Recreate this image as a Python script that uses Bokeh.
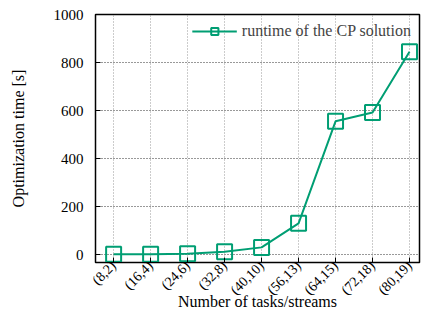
import math
from bokeh.plotting import figure
from bokeh.models import Range1d, FixedTicker, Legend, LegendItem, ColumnDataSource
from bokeh.embed import file_html
from bokeh.resources import INLINE

categories = ["(8,2)", "(16,4)", "(24,6)", "(32,8)", "(40,10)", "(56,13)", "(64,15)", "(72,18)", "(80,19)"]
runtime = [1, 1, 3, 12, 30, 130, 555, 592, 845]
y_ticks = [0, 200, 400, 600, 800, 1000]

GREEN = "#009e73"
FONT = "Liberation Serif"

idx = list(range(len(categories)))
src = ColumnDataSource(dict(x=idx, y=runtime))

p = figure(width=421, height=314, output_backend="svg", toolbar_location=None,
           x_range=Range1d(-0.49, len(categories) - 0.73), y_range=Range1d(-33, 1000),
           min_border_left=95, min_border_right=2, min_border_top=14, min_border_bottom=52)

p.outline_line_color = "black"
p.outline_line_width = 1.5
p.background_fill_color = "white"

# grid
p.xgrid.grid_line_color = "#999999"
p.xgrid.grid_line_dash = "1 2"
p.xgrid.grid_line_width = 1
p.ygrid.grid_line_color = "#333333"
p.ygrid.grid_line_dash = "1 2"
p.ygrid.grid_line_width = 1

# axes
p.xaxis.ticker = FixedTicker(ticks=idx)
p.xaxis.major_label_overrides = {i: c for i, c in zip(idx, categories)}
p.xaxis.major_label_orientation = math.pi / 4
p.yaxis.ticker = FixedTicker(ticks=y_ticks)
for ax in (p.xaxis, p.yaxis):
    ax.major_tick_in = 5
    ax.major_tick_out = 0
    ax.minor_tick_line_color = None
    ax.axis_line_color = "black"
    ax.major_tick_line_color = "black"
    ax.major_label_text_font = FONT
    ax.axis_label_text_font = FONT
    ax.axis_label_text_font_style = "normal"
    ax.major_label_text_color = "black"
    ax.axis_label_text_color = "black"

p.xaxis.major_label_text_font_size = "14px"
p.xaxis.major_label_standoff = 1
p.xaxis.axis_label = "Number of tasks/streams"
p.xaxis.axis_label_text_font_size = "16px"
p.xaxis.axis_label_standoff = -13

p.yaxis.major_label_text_font_size = "15px"
p.yaxis.major_label_standoff = 12
p.yaxis.axis_label = "Optimization time [s]"
p.yaxis.axis_label_text_font_size = "16px"
p.yaxis.axis_label_standoff = 24

ln = p.line("x", "y", source=src, line_color=GREEN, line_width=2)
mk = p.scatter("x", "y", source=src, marker="square", size=15, fill_color=None,
               line_color=GREEN, line_width=2)

legend = Legend(items=[LegendItem(label="runtime of the CP solution", renderers=[ln, mk])],
                location="top_right")
legend.background_fill_alpha = 0
legend.border_line_alpha = 0
legend.label_text_font = FONT
legend.label_text_font_size = "16px"
legend.glyph_width = 45
legend.glyph_height = 18
legend.margin = 4
legend.padding = 4
p.add_layout(legend)

open("out.html", "w").write(file_html(p, INLINE))
